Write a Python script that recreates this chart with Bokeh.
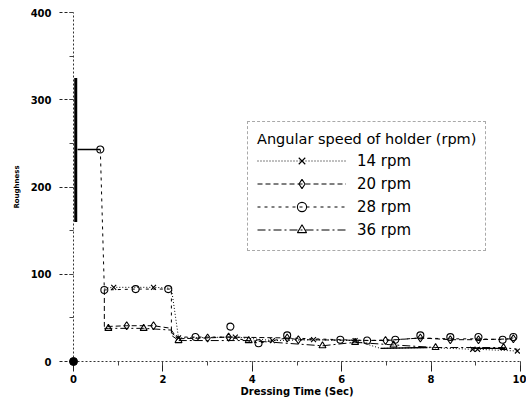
from bokeh.plotting import figure
from bokeh.models import Legend, LegendItem, SingleIntervalTicker
from bokeh.embed import file_html
from bokeh.resources import INLINE

NaN = float("nan")

# ---- data (Dressing time in s, roughness) ----
# 14 rpm (X markers)
t14 = [0.90, 1.79, 2.35, 3.62, 4.45, 5.37, 6.30, 8.93, 9.04, 9.93]
r14 = [85, 85, 27, 28, 24, 25, 24, 14, 14, 12]
path14_t = [0.69, 0.90, 1.79, 2.19, 2.35, 3.62, 4.45, 5.37, 6.30, 6.87, 7.92, 8.93, 9.04, 9.93]
path14_r = [84, 85, 85, 84, 27, 28, 24, 25, 24, 15, 16, 14, 14, 12]
solid14_t = [6.87, 7.92, NaN, 8.95, 9.66]
solid14_r = [15, 16, NaN, 15, 15]
start14_t = [0.05, 0.05]
start14_r = [325, 160]

# 20 rpm (diamond markers)
t20 = [1.19, 1.79, 3.00, 3.47, 4.78, 5.03, 6.98, 7.76, 8.43, 9.06, 9.84]
r20 = [41, 41, 27, 28, 27, 25, 24, 27, 25, 25, 26]
path20_t = [0.69, 0.69, 1.19, 1.79, 2.19, 2.19, 2.30, 3.00, 3.47, 4.78, 5.03, 6.98, 7.76, 8.43, 9.06, 9.84]
path20_r = [82, 40, 41, 41, 38, 30, 26, 27, 28, 27, 25, 24, 27, 25, 25, 26]

# 28 rpm (circle markers)
t28 = [0.60, 0.69, 1.39, 2.12, 2.73, 3.51, 4.14, 4.78, 5.97, 6.57, 7.20, 7.76, 8.43, 9.06, 9.60, 9.84]
r28 = [243, 82, 83, 83, 28, 40, 21, 30, 25, 24, 25, 30, 28, 28, 25, 28]
path28_t = [0.60, 0.69, 1.39, 2.19, 2.19, 2.30, 2.73, 3.51, 4.14, 4.78, 5.97, 6.57, 7.20, 7.76, 8.43, 9.06, 9.60, 9.84]
path28_r = [243, 82, 83, 83, 33, 28, 28, 28, 21, 27, 25, 24, 25, 27, 26, 26, 25, 27]
solid28_t = [0.09, 0.60]
solid28_r = [243, 243]

# 36 rpm (triangle markers)
t36 = [0.78, 1.57, 2.35, 3.92, 5.57, 6.30, 7.16, 8.10, 9.62]
r36 = [38, 38, 24, 24, 18, 22, 19, 16, 16]
path36_t = [0.69, 0.78, 1.57, 2.19, 2.35, 3.92, 5.57, 6.30, 7.16, 8.10, 9.62, 9.93]
path36_r = [38, 38, 38, 36, 24, 24, 18, 22, 19, 16, 16, 14]

# starting point
t0 = [0.0]
r0 = [0]

labels = ["14 rpm", "20 rpm", "28 rpm", "36 rpm"]
legend_title = "Angular speed of holder (rpm)"
x_label = "Dressing Time (Sec)"
y_label = "Roughness"

FONT = "DejaVu Sans"

p = figure(width=526, height=402, x_range=(0, 10), y_range=(0, 400),
           output_backend="svg", toolbar_location=None,
           min_border_left=73, min_border_right=6, min_border_top=12, min_border_bottom=41)
p.background_fill_color = "white"
p.border_fill_color = "white"
p.outline_line_color = None
p.xgrid.grid_line_color = None
p.ygrid.grid_line_color = None

p.xaxis.ticker = SingleIntervalTicker(interval=2, num_minor_ticks=2)
p.yaxis.ticker = SingleIntervalTicker(interval=100, num_minor_ticks=2)

for ax in (p.xaxis[0], p.yaxis[0]):
    ax.axis_line_color = "#333333"
    ax.axis_line_dash = "2 2"
    ax.axis_line_width = 1
    ax.major_tick_line_color = "#222222"
    ax.minor_tick_line_color = "#444444"
    ax.major_tick_in = 0
    ax.minor_tick_in = 0
    ax.minor_tick_out = 4
    ax.major_label_text_font = FONT
    ax.major_label_text_font_size = "10px"
    ax.major_label_text_font_style = "bold"
    ax.major_label_text_color = "black"
    ax.axis_label_text_font = FONT
    ax.axis_label_text_font_style = "bold"
    ax.axis_label_text_color = "black"

p.xaxis.major_tick_out = 10
p.xaxis.major_label_standoff = 3
p.xaxis.axis_label = x_label
p.xaxis.axis_label_standoff = 0
p.xaxis.axis_label_text_font_size = "10px"

p.yaxis.major_tick_out = 14
p.yaxis.major_tick_line_dash = "3 2"
p.yaxis.major_label_standoff = 8
p.yaxis.axis_label = y_label
p.yaxis.axis_label_standoff = 7
p.yaxis.axis_label_text_font_size = "7px"

# solid strokes
p.line(start14_t, start14_r, line_color="black", line_width=3)
p.line(solid14_t, solid14_r, line_color="black", line_width=1.4)
p.line(solid28_t, solid28_r, line_color="black", line_width=1.3)

l14 = p.line(path14_t, path14_r, line_color="black", line_width=1, line_dash="1 2")
l20 = p.line(path20_t, path20_r, line_color="black", line_width=1, line_dash="5 3")
l28 = p.line(path28_t, path28_r, line_color="black", line_width=1, line_dash="3 4")
l36 = p.line(path36_t, path36_r, line_color="black", line_width=1, line_dash="8 3 2 3")

m14 = p.scatter(t14, r14, marker="x", size=7, line_color="black", line_width=1.1)
m20 = p.scatter(t20, r20, marker="diamond", size=8, line_color="black", fill_alpha=0, line_width=1.1)
m28 = p.scatter(t28, r28, marker="circle", size=7, line_color="black", fill_alpha=0, line_width=1.1)
m36 = p.scatter(t36, r36, marker="triangle", size=7, line_color="black", fill_alpha=0, line_width=1.1)

p.scatter(t0, r0, marker="circle", size=8, color="black", level="overlay")

legend = Legend(items=[
    LegendItem(label=labels[0], renderers=[l14, m14]),
    LegendItem(label=labels[1], renderers=[l20, m20]),
    LegendItem(label=labels[2], renderers=[l28, m28]),
    LegendItem(label=labels[3], renderers=[l36, m36]),
], location=(174, 110))
legend.title = legend_title
legend.title_text_font = FONT
legend.title_text_font_size = "14.5px"
legend.title_text_font_style = "normal"
legend.title_text_color = "black"
legend.title_standoff = 2
legend.label_text_font = FONT
legend.label_text_font_size = "15px"
legend.label_text_color = "black"
legend.glyph_width = 89
legend.glyph_height = 23
legend.label_height = 23
legend.label_standoff = 11
legend.spacing = 0
legend.padding = 9
legend.margin = 0
legend.border_line_color = "#555555"
legend.border_line_dash = "3 2"
legend.border_line_width = 1
legend.background_fill_color = "white"
legend.background_fill_alpha = 1
p.add_layout(legend)

open("out.html", "w").write(file_html(p, INLINE))
